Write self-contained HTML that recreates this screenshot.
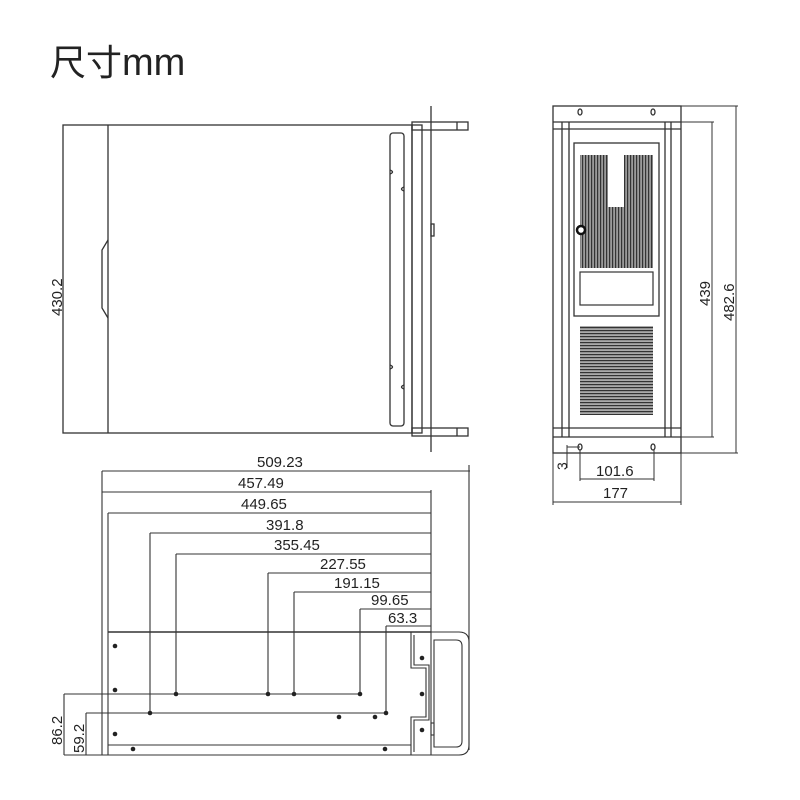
<!DOCTYPE html>
<html><head><meta charset="utf-8"><style>
body{margin:0;background:#fff;width:800px;height:800px;overflow:hidden}
svg{display:block}
text{font-family:"Liberation Sans","Noto Sans CJK SC",sans-serif;fill:#222}
</style></head><body>
<svg width="800" height="800" viewBox="0 0 800 800" xmlns="http://www.w3.org/2000/svg">
<defs>
<pattern id="vg" width="3" height="10" patternUnits="userSpaceOnUse"><rect width="3" height="10" fill="#9a9a9a"/><rect width="1.2" height="10" fill="#333"/></pattern>
<pattern id="hg" width="10" height="3" patternUnits="userSpaceOnUse"><rect width="10" height="3" fill="#aaa"/><rect width="10" height="1.2" fill="#333"/></pattern>
</defs>
<text x="50" y="75" font-size="36" style="font-family:'Liberation Sans','Noto Sans CJK SC',sans-serif">尺寸<tspan font-size="38">mm</tspan></text>

<g fill="none" stroke="#333" stroke-width="1.3">
<rect x="63" y="125" width="349" height="308"/>
<line x1="108" y1="125" x2="108" y2="433"/>
<path d="M108 240 L102 250 L102 308 L108 318"/>
<rect x="390" y="133" width="14" height="293" rx="3"/>
<path d="M390 170 q5 2 0 4 M404 187 q-5 2 0 4 M390 365 q5 2 0 4 M404 385 q-5 2 0 4"/>
<rect x="412" y="125" width="10" height="308"/>
<line x1="431" y1="106" x2="431" y2="452"/>
<rect x="412" y="122" width="56" height="8"/>
<line x1="457" y1="122" x2="457" y2="130"/>
<rect x="412" y="428" width="56" height="8"/>
<line x1="457" y1="428" x2="457" y2="436"/>
<rect x="431" y="224" width="3" height="12"/>

<rect x="553" y="106" width="128" height="347"/>
<line x1="553" y1="122" x2="681" y2="122"/>
<line x1="553" y1="129" x2="681" y2="129"/>
<line x1="553" y1="428" x2="681" y2="428"/>
<line x1="553" y1="437" x2="681" y2="437"/>
<line x1="562" y1="122" x2="562" y2="437"/>
<line x1="569" y1="122" x2="569" y2="437"/>
<line x1="665" y1="122" x2="665" y2="437"/>
<line x1="671" y1="122" x2="671" y2="437"/>
<rect x="574" y="143" width="85" height="173"/>
<ellipse cx="580" cy="112" rx="2" ry="3"/>
<ellipse cx="653" cy="112" rx="2" ry="3"/>
<ellipse cx="580" cy="447" rx="2" ry="3"/>
<ellipse cx="653" cy="447" rx="2" ry="3"/>
</g>
<path d="M580 155 H608 V207 H624 V155 H653 V268 H580Z" fill="url(#vg)"/>
<circle cx="581" cy="230" r="4" fill="#fff" stroke="#111" stroke-width="2.5"/>
<rect x="580" y="272" width="73" height="33" fill="none" stroke="#333" stroke-width="1.2"/>
<rect x="580" y="326" width="73" height="89" fill="url(#hg)"/>

<g fill="none" stroke="#333" stroke-width="1">
<line x1="681" y1="122" x2="714" y2="122"/>
<line x1="681" y1="437" x2="714" y2="437"/>
<line x1="712" y1="122" x2="712" y2="437"/>
<line x1="681" y1="106" x2="738" y2="106"/>
<line x1="681" y1="453" x2="738" y2="453"/>
<line x1="736" y1="106" x2="736" y2="453"/>
<line x1="553" y1="453" x2="553" y2="505"/>
<line x1="681" y1="453" x2="681" y2="505"/>
<line x1="553" y1="502" x2="681" y2="502"/>
<line x1="580" y1="450" x2="580" y2="481"/>
<line x1="654" y1="450" x2="654" y2="481"/>
<line x1="580" y1="479" x2="654" y2="479"/>
<line x1="567" y1="445" x2="567" y2="468"/>
<line x1="567" y1="447" x2="580" y2="447"/>
</g>
<text x="0" y="0" font-size="15" transform="translate(710 306) rotate(-90)">439</text>
<text x="0" y="0" font-size="15" transform="translate(734 321) rotate(-90)">482.6</text>
<text x="0" y="0" font-size="14" transform="translate(567 470) rotate(-90)">3</text>
<text x="596" y="476" font-size="15">101.6</text>
<text x="603" y="498" font-size="15">177</text>
<text x="0" y="0" font-size="15" transform="translate(62 316) rotate(-90)">430.2</text>

<g fill="none" stroke="#333" stroke-width="1.1">
<line x1="102" y1="471" x2="470" y2="471"/>
<line x1="469" y1="465" x2="469" y2="750"/>
<line x1="102" y1="471" x2="102" y2="755"/>
<line x1="431" y1="490" x2="431" y2="632"/>
<line x1="102" y1="492" x2="431" y2="492"/>
<line x1="108" y1="513" x2="431" y2="513"/>
<line x1="150" y1="533" x2="431" y2="533"/>
<line x1="176" y1="554" x2="431" y2="554"/>
<line x1="268" y1="573" x2="431" y2="573"/>
<line x1="294" y1="592" x2="431" y2="592"/>
<line x1="360" y1="609" x2="431" y2="609"/>
<line x1="386" y1="626" x2="431" y2="626"/>
<line x1="108" y1="513" x2="108" y2="632"/>
<line x1="150" y1="533" x2="150" y2="713"/>
<line x1="176" y1="554" x2="176" y2="694"/>
<line x1="268" y1="573" x2="268" y2="694"/>
<line x1="294" y1="592" x2="294" y2="694"/>
<line x1="360" y1="609" x2="360" y2="694"/>
<line x1="386" y1="626" x2="386" y2="713"/>
<line x1="64" y1="694" x2="360" y2="694"/>
<line x1="86" y1="713" x2="386" y2="713"/>
<line x1="64" y1="694" x2="64" y2="755"/>
<line x1="86" y1="713" x2="86" y2="755"/>
<line x1="64" y1="755" x2="411" y2="755"/>
<path d="M108 632 H431" stroke-width="1.4"/>
<line x1="108" y1="632" x2="108" y2="755"/>
<line x1="108" y1="745" x2="411" y2="745"/>
<path d="M411 632 V668 H426 V717 H411 V755 H431"/>
<path d="M414 635 V665 H429 V720 H414 V752"/>
<line x1="431" y1="632" x2="431" y2="755"/>
<path d="M431 632 H459 Q469 632 469 642 V745 Q469 755 459 755 H431"/>
<path d="M434 640 H456 Q462 640 462 646 V741 Q462 747 456 747 H434 Z"/>
<rect x="431" y="723" width="3" height="12"/>
</g>
<g fill="#222">
<circle cx="115" cy="646" r="2.3"/><circle cx="115" cy="690" r="2.3"/><circle cx="115" cy="734" r="2.3"/>
<circle cx="176" cy="694" r="2.3"/><circle cx="268" cy="694" r="2.3"/><circle cx="294" cy="694" r="2.3"/><circle cx="360" cy="694" r="2.3"/>
<circle cx="150" cy="713" r="2.3"/><circle cx="386" cy="713" r="2.3"/>
<circle cx="339" cy="717" r="2.3"/><circle cx="375" cy="717" r="2.3"/>
<circle cx="133" cy="749" r="2.3"/><circle cx="385" cy="749" r="2.3"/>
<circle cx="422" cy="658" r="2.3"/><circle cx="422" cy="694" r="2.3"/><circle cx="422" cy="730" r="2.3"/>
</g>
<text x="257" y="467" font-size="15">509.23</text>
<text x="238" y="488" font-size="15">457.49</text>
<text x="241" y="509" font-size="15">449.65</text>
<text x="266" y="530" font-size="15">391.8</text>
<text x="274" y="550" font-size="15">355.45</text>
<text x="320" y="569" font-size="15">227.55</text>
<text x="334" y="588" font-size="15">191.15</text>
<text x="371" y="605" font-size="15">99.65</text>
<text x="388" y="623" font-size="15">63.3</text>
<text x="0" y="0" font-size="15" transform="translate(62 745) rotate(-90)">86.2</text>
<text x="0" y="0" font-size="15" transform="translate(84 753) rotate(-90)">59.2</text>
</svg>
</body></html>
